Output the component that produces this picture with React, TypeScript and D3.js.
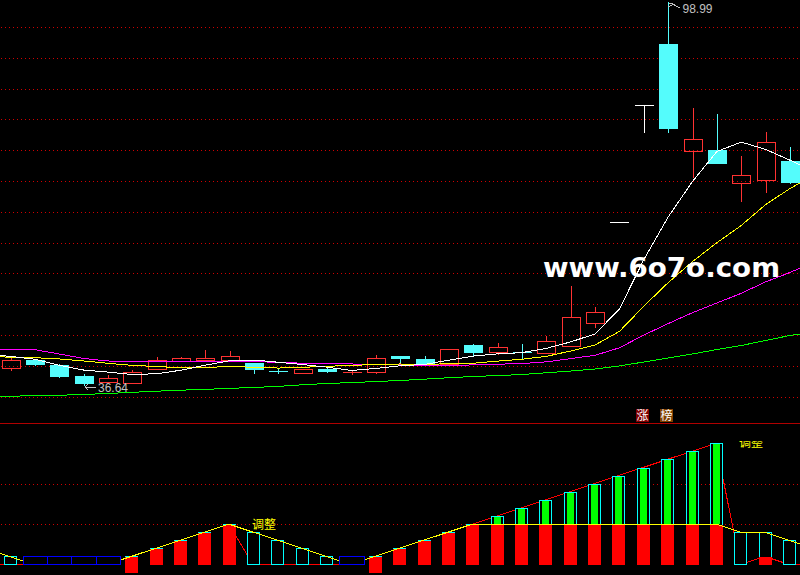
import { useEffect } from 'react';
import * as d3 from 'd3';

const W = 800;
const H = 575;

// daily candles, left to right (33 bars)
const opens = [39.33, 40.71, 39.9, 38.11, 37.18, 37.02, 39.3, 40.6, 40.76, 40.76, 40.27, 38.92, 38.55, 39.25, 38.7, 38.81, 41.36, 40.88, 40.06, 43.15, 42.06, 42.07, 41.8, 43.04, 46.69, 63.13, 82.17, 92.15, 74.69, 74.9, 69.48, 69.96, 73.11];
const closes = [40.71, 40.11, 38.11, 37.02, 37.73, 38.76, 40.71, 41.04, 41.09, 41.36, 39.3, 38.9, 39.2, 38.92, 38.71, 40.99, 41.04, 40.27, 42.45, 42.01, 42.78, 42.06, 43.76, 47.71, 48.48, 63.13, 82.17, 78.53, 76.64, 72.83, 70.78, 76.15, 69.74];
const highs = [41.09, 40.75, 40.06, 38.43, 38.27, 39.08, 41.25, 41.25, 42.34, 42.18, 40.27, 39.41, 39.2, 39.46, 38.97, 41.53, 41.36, 41.36, 42.45, 43.32, 43.43, 43.32, 44.62, 52.76, 49.39, 63.13, 82.17, 98.99, 81.69, 80.76, 73.92, 77.78, 75.39];
const lows = [39.08, 39.9, 37.99, 36.64, 37.18, 37.02, 39.3, 40.6, 40.76, 40.76, 38.64, 38.64, 38.55, 38.81, 38.43, 38.64, 40.27, 40.27, 40.06, 41.53, 41.69, 40.83, 41.8, 43.04, 46.13, 63.13, 77.88, 77.88, 70.55, 72.73, 66.64, 68.11, 69.6];

// moving averages; first value is the bar left of the window, last one the bar right of it
const ma5 = [41.61, 41.31, 40.83, 39.85, 39.08, 38.74, 38.35, 38.47, 39.05, 39.87, 40.59, 40.7, 40.34, 39.97, 39.54, 39.01, 39.34, 39.77, 39.99, 40.69, 41.35, 41.71, 41.91, 42.61, 43.66, 44.96, 49.03, 57.05, 64.0, 69.79, 74.66, 76.19, 74.99, 73.23, 71.32];
const ma10 = [41.36, 41.15, 41.09, 40.88, 40.55, 40.18, 39.83, 39.65, 39.45, 39.48, 39.66, 39.52, 39.4, 39.51, 39.7, 39.8, 40.02, 40.06, 39.98, 40.11, 40.18, 40.53, 40.84, 41.3, 42.18, 43.16, 45.37, 49.48, 53.31, 56.73, 59.81, 62.61, 66.02, 68.62, 70.83];
const ma20 = [42.34, 42.45, 42.39, 41.69, 40.96, 40.55, 40.43, 40.43, 40.43, 40.5, 40.5, 40.43, 40.34, 40.18, 40.18, 40.06, 40.01, 39.9, 39.79, 39.79, 39.92, 40.03, 40.12, 40.41, 40.94, 41.48, 42.7, 44.77, 46.64, 48.42, 49.99, 51.57, 53.43, 54.96, 56.67];
const ma60 = [34.69, 34.8, 34.93, 34.97, 35.1, 35.26, 35.45, 35.63, 35.8, 35.93, 36.09, 36.25, 36.41, 36.68, 36.89, 37.03, 37.2, 37.38, 37.59, 37.83, 38.03, 38.17, 38.35, 38.63, 38.92, 39.25, 39.74, 40.39, 41.04, 41.69, 42.42, 43.07, 43.89, 44.7, 45.27];

const maColors = ['#ffffff', '#ffff00', '#ff00ff', '#00ff00'];

// lower panel indicator; null = flat (blue) day
const boxVals: (number | null)[] = [2, null, null, null, null, 2, 4, 6, 8, 10, 8, 6, 4, 2, null, 2, 4, 6, 8, 10, 12, 14, 16, 18, 20, 22, 24, 26, 28, 30, 8, 8, 6];
const redBase = [0, 0, 0, 0, 0, -2, 0, 0, 0, 0, 0, 0, 0, 0, 0, -2, 0, 0, 0, 0, 0, 0, 0, 0, 0, 0, 0, 0, 0, 0, 0, 0, 0];
// these two also start one bar left of the window and end one bar right of it
const redVals = [0, 0, 0, 0, 0, 0, 2, 4, 6, 8, 10, 0, 0, 0, 0, 0, 2, 4, 6, 8, 10, 12, 14, 16, 18, 20, 22, 24, 26, 28, 30, 0, 2, 0, 0];
const yellowVals = [4, 2, 0, 0, 0, 0, 2, 4, 6, 8, 10, 8, 6, 4, 2, 0, 2, 4, 6, 8, 10, 10, 10, 10, 10, 10, 10, 10, 10, 10, 10, 8, 8, 6, 4];

const gridPrices = [94.92, 89.91, 84.89, 79.88, 74.86, 69.85, 64.84, 59.82, 54.81, 49.79, 44.78, 39.77, 34.75];
const lowerGrid = [10, 20];
const RED_CAP = 10;

const notes = [
  { bar: 10, level: 10, text: '调整', dy: 5, clipTop: null as number | null },
  { bar: 30, level: 30, text: '调整', dy: 4, clipTop: 441 },
];
const tags = [
  { bar: 26, text: '涨', bg: '#800000' },
  { bar: 27, text: '榜', bg: '#804000' },
];

const UP = '#ff3232';
const DOWN = '#54fcfc';
const FLAT = '#ffffff';
const GRID = '#d00000';
const NUM_FONT = '"Liberation Sans", Arial, sans-serif';
const CJK_FONT = '"Noto Sans CJK SC", sans-serif';

const x = d3.scaleLinear().domain([0, 32]).range([10.5, 790]);
const y = d3.scaleLinear().domain([36.64, 98.99]).range([385, 2]);
const yB = d3.scaleLinear().domain([0, 30]).range([564.5, 443.3]);

const Candle = ({ i }: { i: number }) => {
  const o = opens[i], c = closes[i];
  const cx = Math.round(x(i));
  const color = c > o ? UP : c < o ? DOWN : FLAT;
  const top = Math.round(y(Math.max(o, c)));
  const bot = Math.round(y(Math.min(o, c)));
  const yh = Math.round(y(highs[i]));
  const yl = Math.round(y(lows[i]));
  const wx = cx + 0.5;
  const flatBody = bot - top < 1;

  if (flatBody || color === FLAT) {
    return (
      <g stroke={color}>
        <line x1={cx - 9} x2={cx + 10} y1={top + 0.5} y2={top + 0.5} />
        {yl > yh && <line x1={wx} x2={wx} y1={yh} y2={yl + 1} />}
      </g>
    );
  }
  if (color === UP) {
    return (
      <g stroke={color} fill="none">
        {yh < top && <line x1={wx} x2={wx} y1={yh} y2={top} />}
        {yl > bot && <line x1={wx} x2={wx} y1={bot} y2={yl + 1} />}
        <rect x={cx - 9 + 0.5} y={top + 0.5} width={18} height={bot - top} />
      </g>
    );
  }
  return (
    <g>
      <line x1={wx} x2={wx} y1={yh} y2={yl + 1} stroke={color} />
      <rect x={cx - 9} y={top} width={19} height={bot - top + 1} fill={color} />
    </g>
  );
};

const LowerBar = ({ i }: { i: number }) => {
  const v = boxVals[i];
  if (v === null) return null;
  const cx = Math.round(x(i) - 1);
  const b0 = Math.round(yB(0)) - 1;
  const r = redVals[i + 1];
  const t = Math.round(yB(v));
  const capped = Math.min(r, RED_CAP);
  return (
    <g>
      <rect x={cx - 6 + 0.5} y={t + 0.5} width={12} height={b0 - t} fill="#000" stroke="#00ffff" />
      {r > 0 && (
        <rect
          x={cx - 6}
          y={Math.round(yB(capped)) + 1}
          width={13}
          height={Math.round(yB(redBase[i])) - Math.round(yB(capped)) - 1}
          fill="#ff0000"
        />
      )}
      {r > RED_CAP && (
        <rect
          x={cx - 3}
          y={Math.round(yB(r)) + 1}
          width={7}
          height={Math.round(yB(RED_CAP)) - Math.round(yB(r)) - 1}
          fill="#00ff00"
        />
      )}
    </g>
  );
};

const FlatBox = ({ i }: { i: number }) => {
  if (boxVals[i] !== null) return null;
  const b0 = Math.round(yB(0)) - 1;
  const xl = Math.round(x(i) - 12.18);
  const xr = Math.round(x(i) + 12.18);
  const t = Math.round(yB(2));
  return <rect x={xl + 0.5} y={t + 0.5} width={xr - xl} height={b0 - t} fill="#000" stroke="#0000ff" />;
};

const App = () => {
  useEffect(() => {
    document.body.style.margin = '0';
    document.body.style.background = '#000';
  }, []);

  const maLine = d3
    .line<number>()
    .x((_, i) => x(i - 1))
    .y((d) => y(d));
  const lowLine = d3
    .line<number>()
    .x((_, i) => x(i - 1) - 1)
    .y((d) => yB(d));

  const bars = d3.range(opens.length);
  const hiBar = highs.indexOf(d3.max(highs)!);
  const loBar = lows.indexOf(d3.min(lows)!);
  const hx = Math.round(x(hiBar)) + 0.5;
  const hy = Math.round(y(highs[hiBar]));
  const lx = Math.round(x(loBar));
  const ly = Math.round(y(lows[loBar])) + 2;

  return (
    <svg width={W} height={H} style={{ position: 'fixed', left: 0, top: 0, display: 'block' }}>
      <defs>
        {notes.map((n, k) =>
          n.clipTop !== null ? (
            <clipPath id={`note-clip-${k}`} key={k}>
              <rect x={0} y={n.clipTop} width={W} height={H - n.clipTop} />
            </clipPath>
          ) : null
        )}
      </defs>
      <rect width={W} height={H} fill="#000" />

      {/* grid */}
      <g stroke={GRID} strokeDasharray="1 3" shapeRendering="crispEdges">
        {gridPrices.map((p) => (
          <line key={p} x1={1} x2={W} y1={Math.round(y(p)) + 0.5} y2={Math.round(y(p)) + 0.5} />
        ))}
        {lowerGrid.map((v) => (
          <line key={v} x1={1} x2={W} y1={Math.round(yB(v)) + 0.5} y2={Math.round(yB(v)) + 0.5} />
        ))}
      </g>
      <line x1={0} x2={W} y1={423.5} y2={423.5} stroke="#b00000" shapeRendering="crispEdges" />

      {/* candles */}
      <g shapeRendering="crispEdges">
        {bars.map((i) => (
          <Candle key={i} i={i} />
        ))}
      </g>

      {/* moving averages */}
      <g fill="none" strokeWidth={1} shapeRendering="crispEdges">
        {[ma60, ma20, ma10, ma5].map((s, k) => (
          <path key={k} d={maLine(s)!} stroke={maColors[3 - k]} />
        ))}
      </g>

      {/* high / low marks */}
      <g stroke="#c0c0c0" fill="none" shapeRendering="crispEdges">
        <path d={`M${hx},${hy + 1.5} h4 M${hx},${hy + 4.5} l5,-2 l7,4`} />
        <path d={`M${lx + 1},${ly} h11 M${lx + 1},${ly} l3,-3 M${lx + 1},${ly} l3,3`} />
      </g>
      <g fill="#c0c0c0" fontFamily={NUM_FONT} fontSize={12}>
        <text x={hx + 14} y={hy + 10.5}>{highs[hiBar].toFixed(2)}</text>
        <text x={lx + 14} y={ly + 5}>{lows[loBar].toFixed(2)}</text>
      </g>

      {/* tags above the separator */}
      {tags.map((t) => {
        const tx = Math.round(x(t.bar)) - 8;
        return (
          <g key={t.bar}>
            <rect x={tx} y={409} width={13} height={13} fill={t.bg} />
            <text x={tx + 6.5} y={420} fill="#fff" fontSize={12} fontFamily={CJK_FONT} textAnchor="middle">
              {t.text}
            </text>
          </g>
        );
      })}

      {/* lower panel */}
      <path d={lowLine(redVals)!} fill="none" stroke="#ff0000" shapeRendering="crispEdges" />
      <g shapeRendering="crispEdges">
        {bars.map((i) => (
          <LowerBar key={i} i={i} />
        ))}
      </g>
      <path d={lowLine(yellowVals)!} fill="none" stroke="#ffff00" shapeRendering="crispEdges" />
      <g shapeRendering="crispEdges">
        {bars.map((i) => (
          <FlatBox key={i} i={i} />
        ))}
      </g>

      {notes.map((n, k) => (
        <text
          key={k}
          x={Math.round(x(n.bar)) - 2}
          y={Math.round(yB(n.level)) + n.dy}
          fill="#ffff00"
          fontSize={12}
          fontFamily={CJK_FONT}
          clipPath={n.clipTop !== null ? `url(#note-clip-${k})` : undefined}
        >
          {n.text}
        </text>
      ))}

      {/* watermark */}
      <text
        x={543}
        y={277}
        fill="#fff"
        fontSize={27}
        fontWeight="bold"
        fontFamily='"DejaVu Sans", Verdana, sans-serif'
        textLength={237}
        lengthAdjust="spacingAndGlyphs"
      >
        www.6o7o.com
      </text>
    </svg>
  );
};

export default App;
